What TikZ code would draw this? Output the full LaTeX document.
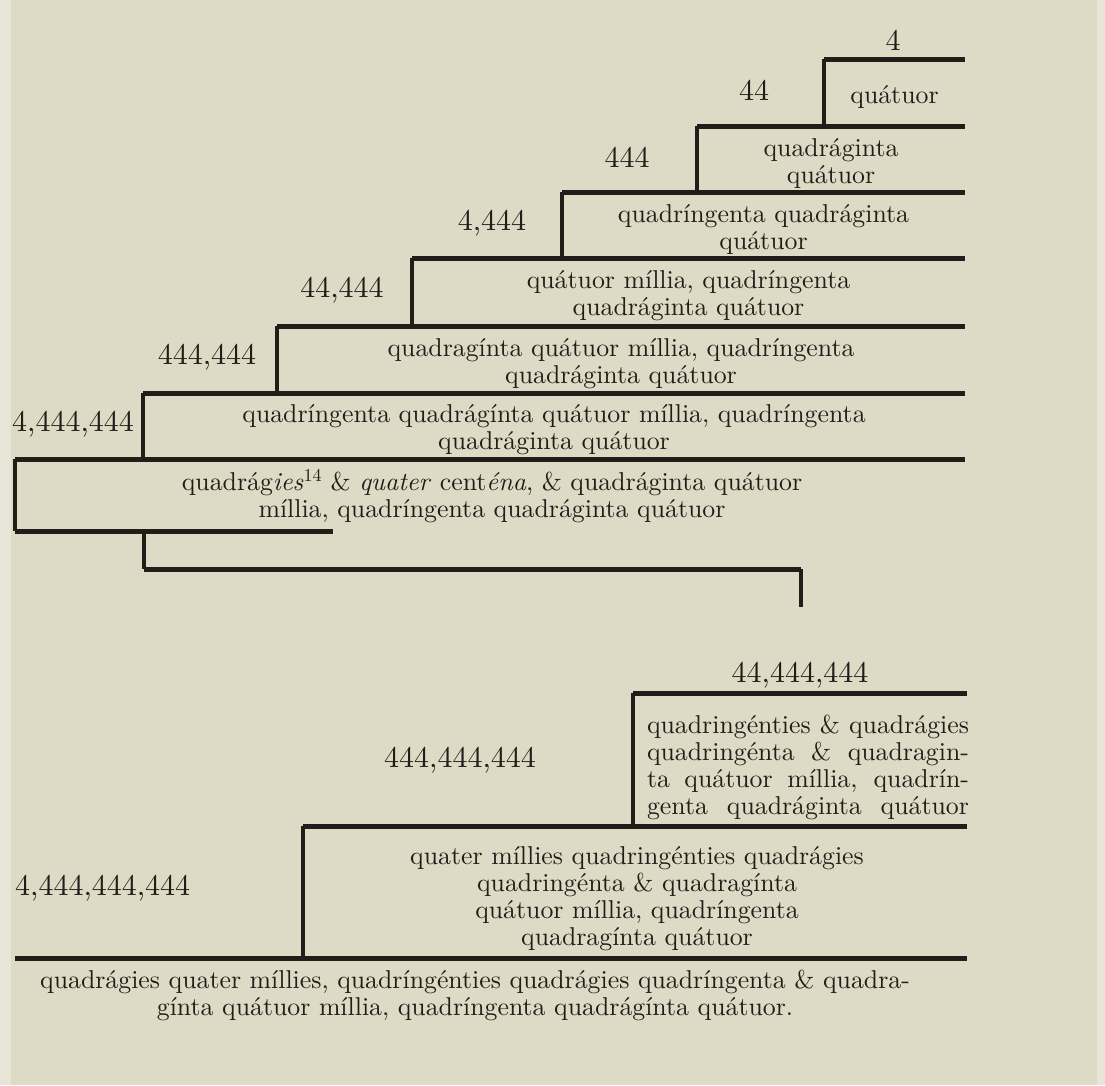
\documentclass[tikz,border=0pt]{standalone}
\usepackage{fontspec}
\setmainfont{lmroman10-regular.otf}[ItalicFont=lmroman10-italic.otf]
\usepackage{tikz}
\usetikzlibrary{calc}
\definecolor{paper}{HTML}{DDDAC5}
\definecolor{paperedge}{HTML}{E7E5D8}
\definecolor{ink}{HTML}{211D19}
\tikzset{
  rule/.style   = {draw=ink,line width=5pt},
  stem/.style   = {draw=ink,line width=3.5pt},
  numlbl/.style = {text=ink,inner sep=0pt,font=\fontsize{30}{32}\selectfont},
  cell/.style   = {text=ink,inner sep=0pt,align=center,
                   font=\fontsize{25.8}{27}\selectfont},
}
\newcommand{\jline}[1]{\makebox[322pt][s]{#1}}

\begin{document}
\begin{tikzpicture}[x=1pt,y=-1pt]
  % page
  \fill[paper] (0,0) rectangle (1105,1085);
  \fill[paperedge] (0,0) rectangle (11,1085);
  \fill[paperedge] (1097,0) rectangle (1105,1085);
  \useasboundingbox (0,0) rectangle (1105,1085);
  \def\xr{965}
  % staircase, rows 1 to 6
  \foreach \i/\xl/\yt/\yb/\num/\txt in {
      1/824/59/126/44/{quátuor},
      2/697/126/192/444/{quadráginta\\quátuor},
      3/562/192/258/{4,444}/{quadríngenta quadráginta\\quátuor},
      4/412/258/326/{44,444}/{quátuor míllia, quadríngenta\\quadráginta quátuor},
      5/277/326/393/{444,444}/{quadragínta quátuor míllia, quadríngenta\\quadráginta quátuor},
      6/143/393/459/{4,444,444}/{quadríngenta quadrágínta quátuor míllia, quadríngenta\\quadráginta quátuor}}{
    \coordinate (tl\i) at (\xl,\yt);
    \coordinate (tr\i) at (\xr,\yt);
    \coordinate (bl\i) at (\xl,\yb);
    \draw[rule] (tl\i) -- (tr\i);
    \draw[stem] (tl\i) -- (bl\i);
    \node[numlbl] (n\i) at ({\xl-70},{(\yt+\yb)/2-2}) {\num};
    \node[cell] (t\i) at ({(\xl+\xr)/2},{(\yt+\yb)/2+4}) {\txt};
  }
  \node[numlbl] (n0) at (893,40) {4};
  % row 7
  \coordinate (tl7) at (15,459);
  \coordinate (tr7) at (\xr,459);
  \coordinate (bl7) at (15,531);
  \coordinate (br7) at (333,531);
  \draw[rule] (tl7) -- (tr7);
  \draw[stem] (tl7) -- (bl7);
  \draw[rule] (bl7) -- (br7);
  \node[cell] (t7) at (492,496)
       {quadrág\textit{ies}\textsuperscript{14} \& \textit{quater} cent\textit{éna}, \& quadráginta quátuor\\
        míllia, quadríngenta quadráginta quátuor};
  % hook down
  \coordinate (h1) at (144,531);
  \coordinate (h2) at (144,569);
  \coordinate (h3) at (801,569);
  \coordinate (h4) at (801,607);
  \draw[stem] (h1) -- (h2);
  \draw[rule] (h2) -- (h3);
  \draw[stem] (h3) -- (h4);
  % lower table
  \coordinate (al) at (633,693);
  \coordinate (ar) at (967,693);
  \coordinate (ab) at (633,826);
  \coordinate (bl) at (303,826);
  \coordinate (br) at (967,826);
  \coordinate (bb) at (303,958);
  \coordinate (cl) at (15,958);
  \coordinate (cr) at (967,958);
  \draw[rule] (al) -- (ar);
  \draw[stem] (al) -- (ab);
  \draw[rule] (bl) -- (br);
  \draw[stem] (bl) -- (bb);
  \draw[rule] (cl) -- (cr);
  \node[numlbl] (n8) at (800,675) {44,444,444};
  \node[numlbl] (n9) at (460,760) {444,444,444};
  \node[numlbl,anchor=west] (n10) at (15,888) {4,444,444,444};
  \node[cell,align=left] (ta) at (808,767)
       {\jline{quadringénties \& quadrágies}\\
        \jline{quadringénta \& quadragin-}\\
        \jline{ta quátuor míllia, quadrín-}\\
        \jline{genta quadráginta quátuor}};
  \node[cell] (tb) at (637,899)
       {quater míllies quadringénties quadrágies\\
        quadringénta \& quadragínta\\
        quátuor míllia, quadríngenta\\
        quadragínta quátuor};
  \node[cell] (tc) at (475,995)
       {quadrágies quater míllies, quadríngénties quadrágies quadríngenta \& quadra-\\
        gínta quátuor míllia, quadríngenta quadrágínta quátuor.};
\end{tikzpicture}
\end{document}
